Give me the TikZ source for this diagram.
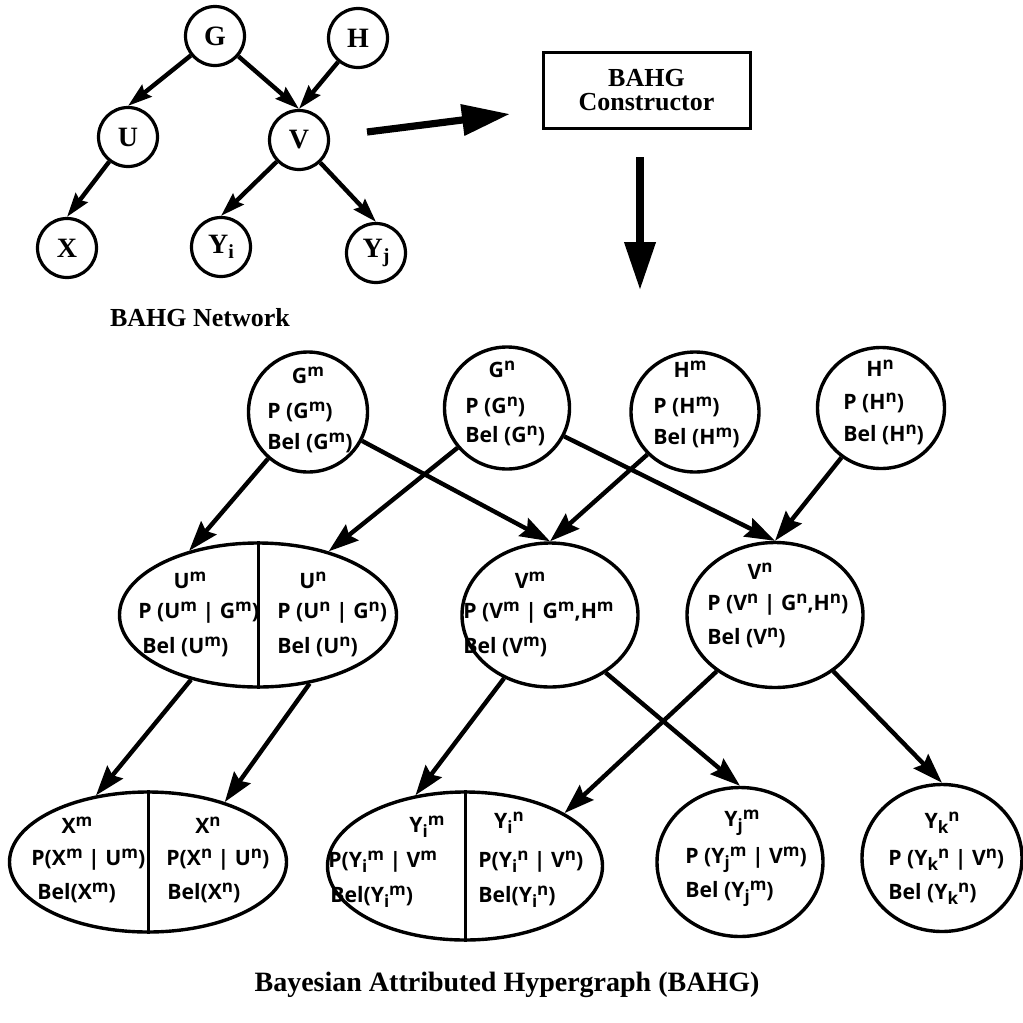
\documentclass[tikz,border=0pt]{standalone}
\usepackage{fontspec}
\setmainfont{Liberation Serif}
\newfontfamily\lblfont{Open Sans}
\usetikzlibrary{arrows.meta,shapes.geometric}
\newcommand\spx[1]{\raisebox{0.6ex}{\fontsize{8.5}{9}\selectfont #1}}
\newcommand\sbx[1]{\raisebox{-0.4ex}{\fontsize{8.5}{9}\selectfont #1}}
\newcommand\nsb[1]{\raisebox{-0.4ex}{\fontsize{10}{10}\selectfont #1}}
\begin{document}
\begin{tikzpicture}[x=0.5pt,y=-0.5pt,
  net/.style={circle, draw, line width=1.6pt, minimum size=29.5pt, inner sep=0pt,
    font=\bfseries\fontsize{14}{14}\selectfont},
  ell/.style={ellipse, draw, line width=1.7pt, inner sep=0pt},
  ttl/.style={font=\lblfont\bfseries\fontsize{10.6}{12}\selectfont, inner sep=0pt},
  ln/.style={font=\lblfont\bfseries\fontsize{10.6}{12}\selectfont, anchor=west, inner sep=0pt},
  sarr/.style={line width=2.2pt, -{Stealth[length=12pt,width=7.5pt,inset=1.5pt]}},
  arr/.style={line width=2.2pt, -{Stealth[length=15pt,width=10pt,inset=2pt]}},
  bigarr/.style={line width=3.6pt, -{Triangle[length=24pt,width=15pt]}},
  divider/.style={line width=1.5pt}
]
\useasboundingbox[fill=white] (0,0) rectangle (1023,1023);

% ---------- top network ----------
\node[net] (G) at (215,36) {G};
\node[net] (H) at (358,38) {H};
\node[net] (U) at (128,137) {U};
\node[net] (V) at (299,140) {V};
\node[net] (X) at (67,248) {X};
\node[net] (Yi) at (221,247) {Y\nsb{i}};
\node[net] (Yj) at (376,253) {Y\nsb{j}};
\node[font=\bfseries\fontsize{13}{14}\selectfont, inner sep=0pt] (netlbl) at (200,318) {BAHG Network};

\draw[sarr] (G) -- (U.north);
\draw[sarr] (G) -- (V.north);
\draw[sarr] (H) -- (V.north);
\draw[sarr] (U) -- (X.north);
\draw[sarr] (V) -- (Yi.north);
\draw[sarr] (V) -- (Yj.north);

% ---------- constructor ----------
\node[draw, line width=1.5pt, minimum width=103.5pt, minimum height=38pt, inner sep=0pt,
  align=center, font=\bfseries\fontsize{13}{12}\selectfont] (cons) at (646.5,90) {BAHG\\Constructor};
\coordinate (ra1) at (367,132);
\coordinate (ra2) at (510,114);
\coordinate (da1) at (640,157);
\coordinate (da2) at (640,290);
\draw[bigarr] (ra1) -- (ra2);
\draw[bigarr] (da1) -- (da2);

% ---------- second row: circles ----------
\node[ell, minimum width=59.5pt, minimum height=60pt] (Gm) at (308,412) {};
\node[ell, minimum width=62.5pt, minimum height=61pt] (Gn) at (507,408) {};
\node[ell, minimum width=64pt, minimum height=60pt] (Hm) at (695,412) {};
\node[ell, minimum width=63.5pt, minimum height=60.5pt] (Hn) at (881,408) {};

\node[ttl] (gm-t) at (308,375) {G\spx{m}};
\node[ln] (gm-p) at (267,412) {P (G\spx{m})};
\node[ln] (gm-b) at (267,443) {Bel (G\spx{m})};
\node[ttl] (gn-t) at (502,369) {G\spx{n}};
\node[ln] (gn-p) at (465,407) {P (G\spx{n})};
\node[ln] (gn-b) at (465,436) {Bel (G\spx{n})};
\node[ttl] (hm-t) at (690,369) {H\spx{m}};
\node[ln] (hm-p) at (653,407) {P (H\spx{m})};
\node[ln] (hm-b) at (653,438) {Bel (H\spx{m})};
\node[ttl] (hn-t) at (880,368) {H\spx{n}};
\node[ln] (hn-p) at (843,403) {P (H\spx{n})};
\node[ln] (hn-b) at (843,435) {Bel (H\spx{n})};

% ---------- third row: ellipses ----------
\node[ell, minimum width=138.5pt, minimum height=72pt] (Ue) at (258,615) {};
\node[ell, minimum width=88pt, minimum height=72pt] (Vm) at (550,615) {};
\node[ell, minimum width=88pt, minimum height=72.5pt] (Vn) at (775,615) {};
\draw[divider] (Ue.north) -- (Ue.south);

\node[ttl] (um-t) at (190,580) {U\spx{m}};
\node[ln] (um-p) at (138,613) {P (U\spx{m} | G\spx{m})};
\node[ln] (um-b) at (142,647) {Bel (U\spx{m})};
\node[ttl] (un-t) at (313,580) {U\spx{n}};
\node[ln] (un-p) at (277,613) {P (U\spx{n} | G\spx{n})};
\node[ln] (un-b) at (277,647) {Bel (U\spx{n})};
\node[ttl] (vm-t) at (530,580) {V\spx{m}};
\node[ln] (vm-p) at (463,613) {P (V\spx{m} | G\spx{m},H\spx{m}};
\node[ln] (vm-b) at (463,647) {Bel (V\spx{m})};
\node[ttl] (vn-t) at (760,571) {V\spx{n}};
\node[ln] (vn-p) at (707,605) {P (V\spx{n} | G\spx{n},H\spx{n})};
\node[ln] (vn-b) at (707,638) {Bel (V\spx{n})};

% ---------- bottom row ----------
\node[ell, minimum width=138.5pt, minimum height=70pt] (Xe) at (148,862) {};
\node[ell, minimum width=137.5pt, minimum height=74pt] (Yie) at (465,866) {};
\node[ell, minimum width=83pt, minimum height=74.5pt] (Yje) at (740,862) {};
\node[ell, minimum width=80pt, minimum height=73.5pt] (Yke) at (942,858) {};
\draw[divider] (Xe.north) -- (Xe.south);
\draw[divider] (Yie.north) -- (Yie.south);

\node[ttl] (xm-t) at (77,825) {X\spx{m}};
\node[ln] (xm-p) at (31,860) {P(X\spx{m} | U\spx{m})};
\node[ln] (xm-b) at (37,893) {Bel(X\spx{m})};
\node[ttl] (xn-t) at (208,825) {X\spx{n}};
\node[ln] (xn-p) at (166,860) {P(X\spx{n} | U\spx{n})};
\node[ln] (xn-b) at (167,893) {Bel(X\spx{n})};
\node[ttl] (yim-t) at (427,827) {Y\sbx{i}\spx{m}};
\node[ln] (yim-p) at (328,862) {P(Y\sbx{i}\spx{m} | V\spx{m}};
\node[ln] (yim-b) at (330,897) {Bel(Y\sbx{i}\spx{m})};
\node[ttl] (yin-t) at (509,823) {Y\sbx{i}\spx{n}};
\node[ln] (yin-p) at (478,862) {P(Y\sbx{i}\spx{n} | V\spx{n})};
\node[ln] (yin-b) at (478,897) {Bel(Y\sbx{i}\spx{n})};
\node[ttl] (yj-t) at (742,823) {Y\sbx{j}\spx{m}};
\node[ln] (yj-p) at (685,860) {P (Y\sbx{j}\spx{m} | V\spx{m})};
\node[ln] (yj-b) at (685,894) {Bel (Y\sbx{j}\spx{m})};
\node[ttl] (yk-t) at (942,823) {Y\sbx{k}\spx{n}};
\node[ln] (yk-p) at (888,860) {P (Y\sbx{k}\spx{n} | V\spx{n})};
\node[ln] (yk-b) at (888,894) {Bel (Y\sbx{k}\spx{n})};

% ---------- connectors ----------
\draw[arr] (Gm) -- (Ue.137);
\draw[arr] (Gn) -- (Ue.42);
\draw[arr] (Gm) -- (Vm.north);
\draw[arr] (Hm) -- (Vm.north);
\draw[arr] (Gn) -- (Vn.north);
\draw[arr] (Hn) -- (Vn.north);
\draw[arr] (Ue.224) -- (Xe.128);
\draw[arr] (Ue.307) -- (Xe.38);
\draw[arr] (Vm.234) -- (Yie.125);
\draw[arr] (Vm.314) -- (Yje.north);
\draw[arr] (Vn.224) -- (Yie.28);
\draw[arr] (Vn.316) -- (Yke.north);

\node[font=\bfseries\fontsize{14}{16}\selectfont, inner sep=0pt] (cap) at (507,985) {Bayesian Attributed Hypergraph (BAHG)};
\end{tikzpicture}
\end{document}
